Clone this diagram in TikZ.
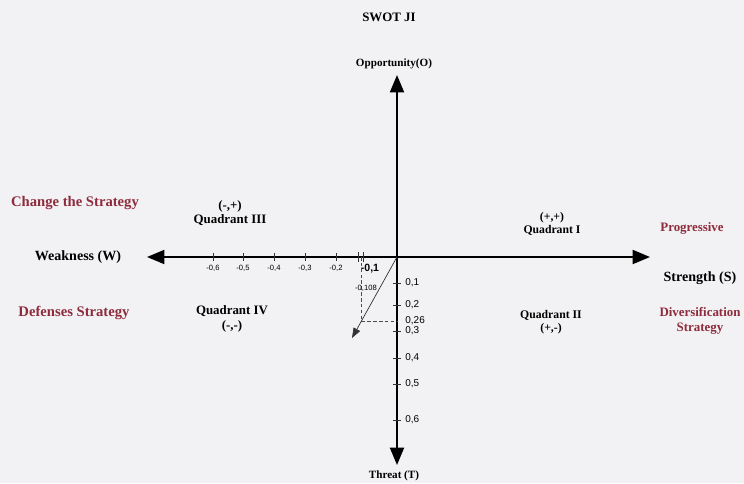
\documentclass[tikz,border=0pt]{standalone}
\usepackage{fontspec}
\setmainfont{Liberation Serif}
\newfontfamily\ticksans{Liberation Sans}
\usepackage{xcolor}
\definecolor{wine}{HTML}{8E2B3C}
\definecolor{paper}{HTML}{F2F2F4}
\usetikzlibrary{arrows.meta}
\tikzset{
  axis/.style   ={draw=black,line width=1.6pt},
  bigtip/.style ={{Triangle[length=5.2mm,width=4.2mm]}-{Triangle[length=5.2mm,width=4.2mm]}},
  slant/.style  ={-{Triangle[length=3mm,width=2.2mm]},draw=black!80,line width=0.6pt},
  guide/.style  ={draw=black!70,densely dashed,line width=0.5pt},
  tick/.style   ={draw=black!80,line width=0.6pt},
  quad/.style   ={font=\bfseries,align=center,inner sep=1pt},
  side/.style   ={font=\bfseries,text=wine,align=center,inner sep=1pt},
  axlbl/.style  ={font=\bfseries\fontsize{9.5}{11}\selectfont,inner sep=1pt},
  hlbl/.style   ={font=\ticksans\fontsize{6.5}{7}\selectfont,inner sep=1pt},
  vlbl/.style   ={font=\ticksans\fontsize{8.5}{9}\selectfont,inner sep=1pt,anchor=west},
}

\begin{document}
\begin{tikzpicture}[x=0.3mm,y=-0.3mm]
\fill[paper] (0,0) rectangle (744,483);
\useasboundingbox (0,0) rectangle (744,483);
% axes
\coordinate (o) at (397,257);
\coordinate (wtip) at (147,257);
\coordinate (stip) at (650,257);
\coordinate (otip) at (397,75);
\coordinate (ttip) at (397,465);
\draw[axis,bigtip] (wtip) -- (stip);
\draw[axis,bigtip] (otip) -- (ttip);
\node[font=\bfseries\fontsize{11}{12}\selectfont] (title) at (389,17) {SWOT JI};
\node[axlbl] (opp) at (394,64) {Opportunity(O)};
\node[axlbl] (thr) at (394,476) {Threat (T)};
\node[axlbl,font=\bfseries\fontsize{12}{13}\selectfont] (weak) at (78,257) {Weakness (W)};
\node[axlbl,font=\bfseries\fontsize{12}{13}\selectfont] (str) at (700,278) {Strength (S)};
% ticks on the horizontal axis
\foreach \px/\val [count=\i] in {213/{-0,6},243/{-0,5},274/{-0,4},305/{-0,3},336/{-0,2}}{
  \draw[tick] (\px,253) -- (\px,261);
  \node[hlbl] (hx\i) at (\px,268) {\val};
}
\draw[tick] (358,252) -- (358,262);
\draw[tick] (363,252) -- (363,262);
\node[hlbl,font=\ticksans\bfseries\fontsize{9}{10}\selectfont] (hx6) at (370,269) {-0,1};
% ticks on the vertical axis
\foreach \py/\val [count=\i] in {283/{0,1},305/{0,2},331/{0,3},358/{0,4},384/{0,5},420/{0,6}}{
  \draw[tick] (393,\py) -- (401,\py);
  \node[vlbl] (vy\i) at (404,\py) {\val};
}
\node[vlbl] (vy26) at (404,321) {0,26};
% position of the institution
\coordinate (corner) at (361,321);
\coordinate (xfoot) at (361,257);
\coordinate (yfoot) at (397,321);
\coordinate (pt) at (352,338);
\draw[guide] (xfoot) -- (corner) -- (yfoot);
\draw[slant] (o) -- (pt);
\node[hlbl] (xval) at (366,288) {-0,108};
% quadrants
\node[quad,font=\bfseries\fontsize{11}{12.5}\selectfont] (q3) at (230,213) {(-,+)\\Quadrant III};
\node[quad,font=\bfseries\fontsize{11}{12.5}\selectfont] (q4) at (232,319) {Quadrant IV\\(-,-)};
\node[quad,font=\bfseries\fontsize{10}{11.5}\selectfont] (q1) at (552,224) {(+,+)\\Quadrant I};
\node[quad,font=\bfseries\fontsize{10}{11.5}\selectfont] (q2) at (551,322) {Quadrant II\\(+,-)};
% strategies
\node[side,font=\bfseries\fontsize{12.5}{14}\selectfont] (chg) at (75,203) {Change the Strategy};
\node[side,font=\bfseries\fontsize{12.5}{14}\selectfont] (dfs) at (74,313) {Defenses Strategy};
\node[side,font=\bfseries\fontsize{11}{13}\selectfont] (prg) at (692,228) {Progressive};
\node[side,font=\bfseries\fontsize{11}{13}\selectfont] (dvs) at (700,321) {Diversification\\Strategy};
\end{tikzpicture}
\end{document}
